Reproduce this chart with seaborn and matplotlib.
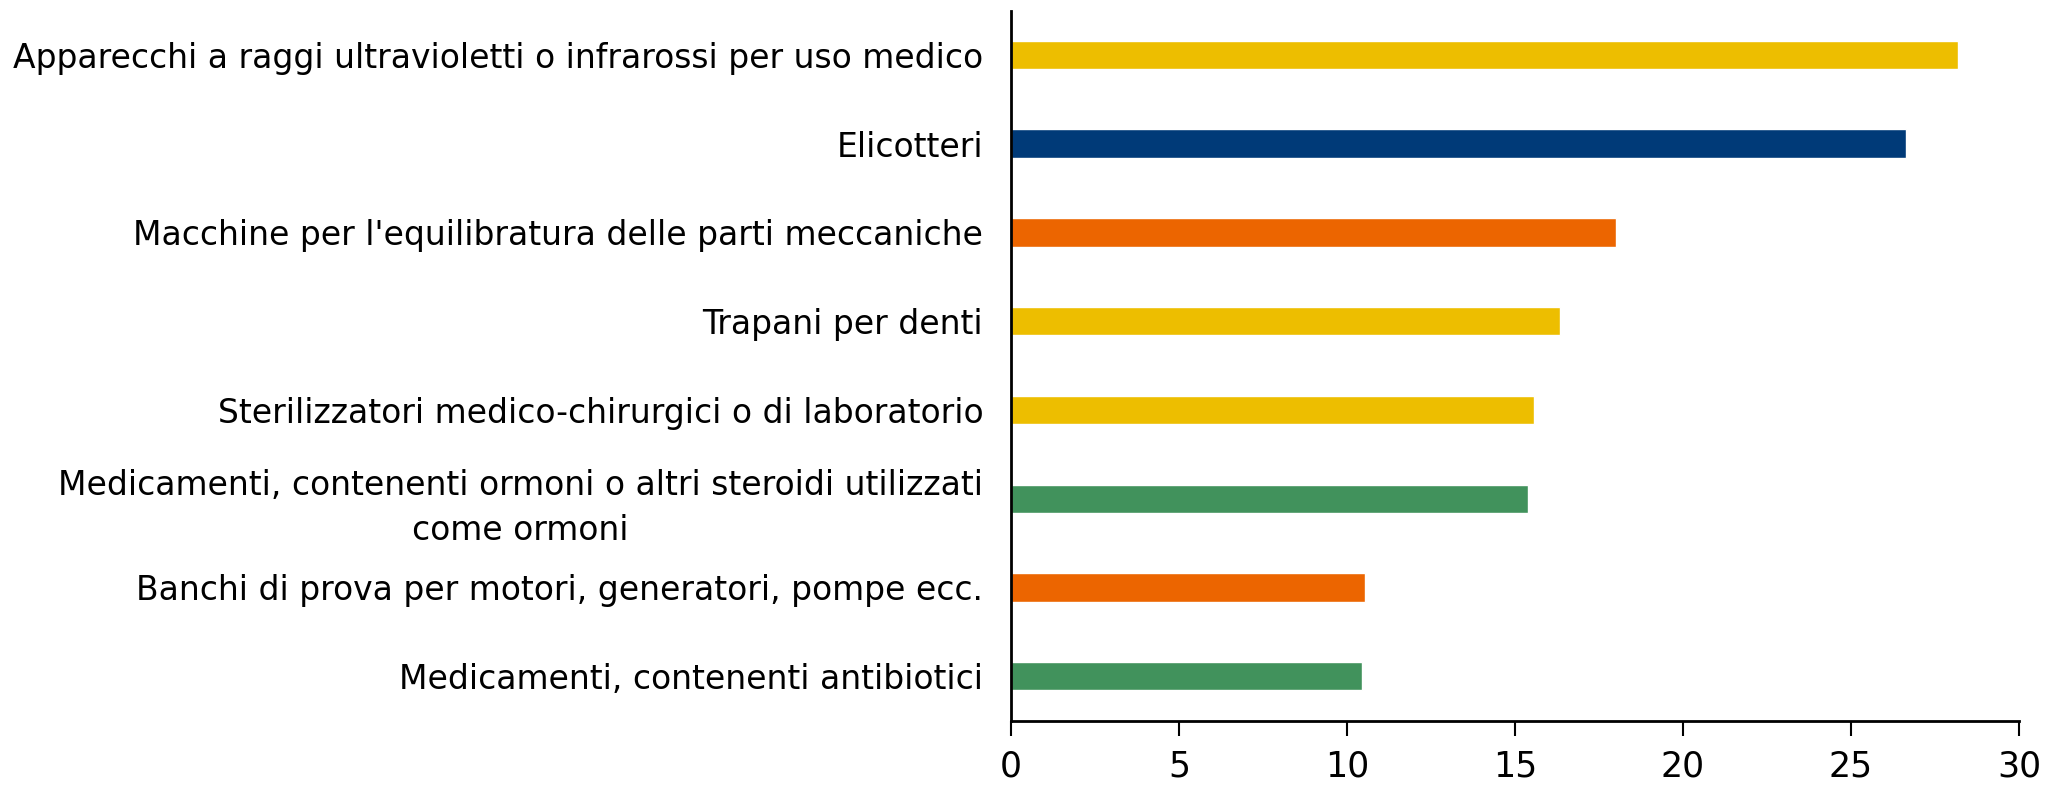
import pandas as pd
import matplotlib.pyplot as plt
import seaborn as sns

# dati
prodotti = [
    "Apparecchi a raggi ultravioletti o infrarossi per uso medico",
    "Elicotteri",
    "Macchine per l'equilibratura delle parti meccaniche",
    "Trapani per denti",
    "Sterilizzatori medico-chirurgici o di laboratorio",
    "Medicamenti, contenenti ormoni o altri steroidi utilizzati\ncome ormoni",
    "Banchi di prova per motori, generatori, pompe ecc.",
    "Medicamenti, contenenti antibiotici",
]
valori = [28.2, 26.65, 18.0, 16.33, 15.58, 15.4, 10.54, 10.46]
colori = ["#EDBE00", "#003A78", "#EC6500", "#EDBE00", "#EDBE00", "#41925C", "#EC6500", "#41925C"]

df = pd.DataFrame({"prodotto": prodotti, "valore": valori})
palette = dict(zip(prodotti, colori))

sns.set_style("white")
plt.rcParams['font.family'] = ['DejaVu Sans']

fig = plt.figure(figsize=(20.62, 7.86), dpi=100)
ax = fig.add_axes([0.4903, 0.0832, 0.4888, 0.9034])

sns.barplot(data=df, x="valore", y="prodotto", hue="prodotto", palette=palette,
            orient="h", width=0.32, saturation=1, legend=False, ax=ax)

ax.set_xlim(0, 30)
ax.set_xticks([0, 5, 10, 15, 20, 25, 30])
ax.set_xlabel("")
ax.set_ylabel("")
for lab in ax.get_yticklabels():
    lab.set_multialignment("center")
    lab.set_linespacing(1.45)
ax.tick_params(axis="x", bottom=True, direction="out", length=11, width=1.5,
               labelsize=25, pad=10, colors="black", labelcolor="black")
ax.tick_params(axis="y", left=False, length=0, labelsize=23.8, pad=20, labelcolor="black")

sns.despine(ax=ax, top=True, right=True)
for s in ["left", "bottom"]:
    ax.spines[s].set_color("black")
    ax.spines[s].set_linewidth(2)

fig.savefig("out.png", dpi=100)
